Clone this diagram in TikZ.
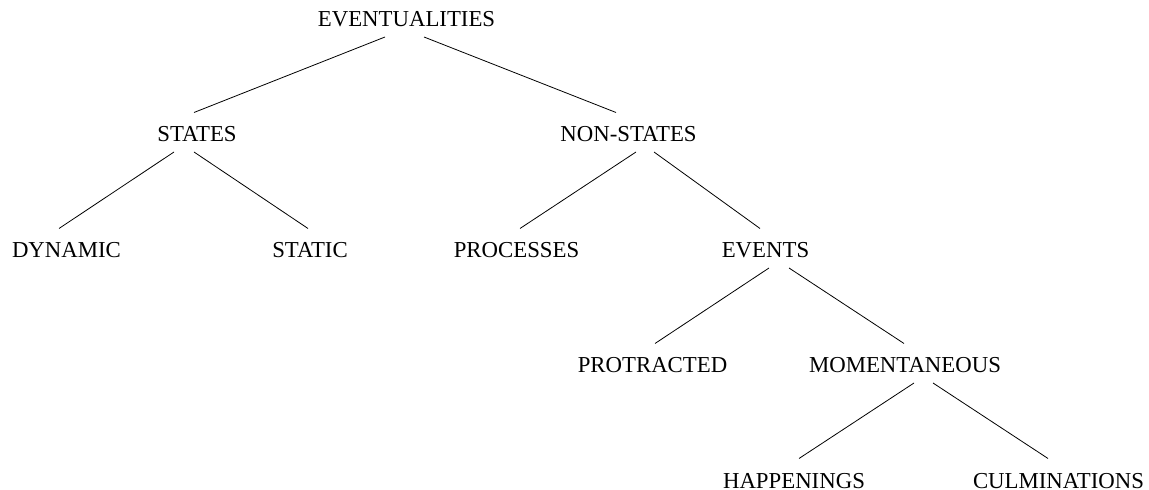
\documentclass[tikz,border=0pt]{standalone}
\usepackage{fontspec}
\setmainfont{Liberation Serif}
\usepackage{tikz}
\usetikzlibrary{calc,positioning}
\tikzset{font={\fontsize{11.4pt}{13}\selectfont}}
\newcommand{\branch}[4]{\draw[style=-] ($(#1.base)+(#2,10)$) -- ($(#3.base)+(#4,-29.5)$);}

\begin{document}
\begin{tikzpicture}[x=0.5pt,y=-0.5pt,
catnode/.style={inner sep=0pt,anchor=base}
]
\useasboundingbox (0,0) rectangle (1149,490);

\node[catnode] at (406.5,27) (evt) {EVENTUALITIES};

\node[catnode] at (197,142)   (sta) {STATES};
\node[catnode] at (628.5,142) (non) {NON-STATES};

\node[catnode] at (66.5,258)  (dyn) {DYNAMIC};
\node[catnode] at (310,258)   (stc) {STATIC};
\node[catnode] at (516.5,258) (pro) {PROCESSES};
\node[catnode] at (765.5,258) (evs) {EVENTS};

\node[catnode] at (652.5,373) (prt) {PROTRACTED};
\node[catnode] at (905,373)   (mom) {MOMENTANEOUS};

\node[catnode] at (794,488)    (hap) {HAPPENINGS};
\node[catnode] at (1058.5,488) (cul) {CULMINATIONS};

%tree
\branch{evt}{-21.5}{sta}{-3}
\branch{evt}{17.5}{non}{-12.5}
\branch{sta}{-23}{dyn}{-7.5}
\branch{sta}{-3}{stc}{-2}
\branch{non}{7.5}{pro}{3.5}
\branch{non}{25.5}{evs}{-5.5}
\branch{evs}{3.5}{prt}{2.5}
\branch{evs}{23.5}{mom}{-1}
\branch{mom}{9}{hap}{5}
\branch{mom}{28}{cul}{-10.5}

\end{tikzpicture}
\end{document}
